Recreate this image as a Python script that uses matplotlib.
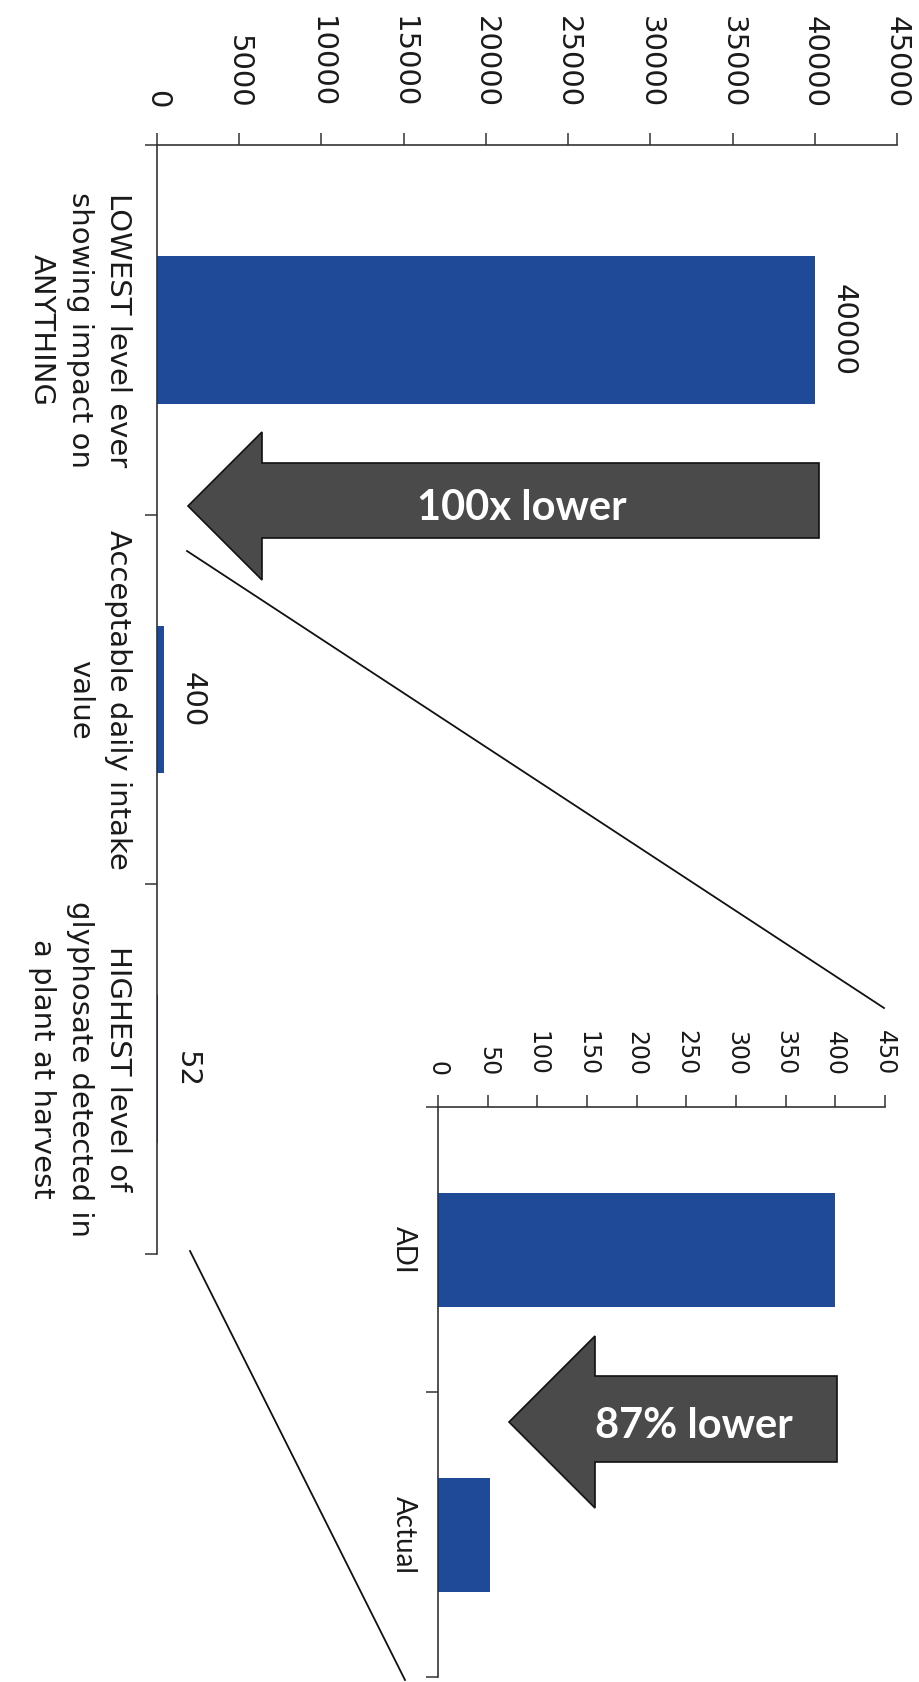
import matplotlib
matplotlib.use("Agg")
import matplotlib.pyplot as plt
from matplotlib.patches import Polygon
from matplotlib.lines import Line2D

# ---- data ----
main_labels = ["LOWEST level ever\nshowing impact on\nANYTHING",
               "Acceptable daily intake\nvalue",
               "HIGHEST level of\nglyphosate detected in\na plant at harvest"]
main_values = [40000, 400, 52]
main_ticks = [0, 5000, 10000, 15000, 20000, 25000, 30000, 35000, 40000, 45000]

inset_labels = ["ADI", "Actual"]
inset_values = [400, 52]
inset_ticks = [0, 50, 100, 150, 200, 250, 300, 350, 400, 450]

arrow_texts = ["100x lower", "87% lower"]

BLUE = "#1e4a98"
INK = "#1a1a1a"
W, H = 919, 1682

fig = plt.figure(figsize=(W / 100, H / 100), dpi=100)
fig.patch.set_facecolor("white")


def box(l, t, r, b):
    # pixel box (top-left origin) -> figure fraction rect
    return [l / W, 1 - b / H, (r - l) / W, (b - t) / H]


def px(x, y):
    return (x / W, 1 - y / H)


def style_axes(ax, ticks, lim, cats, labels, tick_fs, tick_pad, lab_font, lab_fs, lab_pad, ls):
    ax.set_xlim(0, lim)
    ax.set_ylim(len(cats) - 0.5, -0.5)
    for s in ["right", "bottom"]:
        ax.spines[s].set_visible(False)
    for s in ["top", "left"]:
        ax.spines[s].set_color("#333333")
        ax.spines[s].set_linewidth(1.2)
    ax.xaxis.tick_top()
    ax.set_xticks(ticks)
    ax.set_xticklabels([str(t) for t in ticks])
    ax.tick_params(axis="x", direction="out", length=8.5, width=1.1, color="#333333",
                   pad=tick_pad, labelsize=tick_fs, labelrotation=-90, labelcolor=INK)
    ax.set_yticks([i - 0.5 for i in range(len(cats) + 1)])
    ax.set_yticklabels([])
    ax.tick_params(axis="y", which="major", direction="out", length=9, width=1.1, color="#333333")
    ax.set_yticks(cats, minor=True)
    ax.set_yticklabels(labels, minor=True, rotation=-90, ha="right", va="center",
                       multialignment="center", linespacing=ls, fontsize=lab_fs,
                       family=lab_font, color=INK)
    ax.tick_params(axis="y", which="minor", length=0, pad=lab_pad)


# ---- main chart ----
ax = fig.add_axes(box(157, 145, 897, 1254))
cats = list(range(len(main_values)))
ax.barh(cats, main_values, height=0.4, color=BLUE)
style_axes(ax, main_ticks, 45000, cats, main_labels, 21, 18,
           ["DejaVu Sans"], 21, 18, 1.45)
for i, v in enumerate(main_values):
    ax.annotate(str(v), (v, i), xytext=(11, 0), textcoords="offset points",
                rotation=-90, ha="left", va="center", fontsize=21, color=INK)

# ---- inset chart ----
ax2 = fig.add_axes(box(438, 1107, 885, 1677))
cats2 = list(range(len(inset_values)))
ax2.barh(cats2, inset_values, height=0.4, color=BLUE)
style_axes(ax2, inset_ticks, 450, cats2, inset_labels, 17, 14,
           ["Lato", "DejaVu Sans"], 20, 15, 1.2)

# ---- connector lines ----
for (x0, y0), (x1, y1) in [((187, 551), (884, 1008)), ((190, 1251), (405, 1680))]:
    a, b = px(x0, y0), px(x1, y1)
    fig.add_artist(Line2D([a[0], b[0]], [a[1], b[1]], color="#111111", lw=1.3,
                          transform=fig.transFigure))

# ---- arrows ----
arrows = [
    dict(tail=819, top=463, bot=538, base=262, htop=432, hbot=580, tip=188, txt=(522, 520)),
    dict(tail=837, top=1376, bot=1462, base=595, htop=1336, hbot=1508, tip=509, txt=(694, 1438)),
]
for a, label in zip(arrows, arrow_texts):
    mid = (a["htop"] + a["hbot"]) / 2
    pts = [(a["tail"], a["top"]), (a["base"], a["top"]), (a["base"], a["htop"]),
           (a["tip"], mid), (a["base"], a["hbot"]), (a["base"], a["bot"]),
           (a["tail"], a["bot"])]
    poly = Polygon([px(*p) for p in pts], closed=True, transform=fig.transFigure,
                   facecolor="#4a4a4a", edgecolor="#111111", lw=1.2)
    fig.add_artist(poly)
    tx, ty = px(*a["txt"])
    fig.text(tx, ty, label, ha="center", va="baseline", color="white",
             fontsize=30, fontweight="bold", family=["Lato", "DejaVu Sans"])

fig.savefig("out.png", dpi=100, facecolor="white")
